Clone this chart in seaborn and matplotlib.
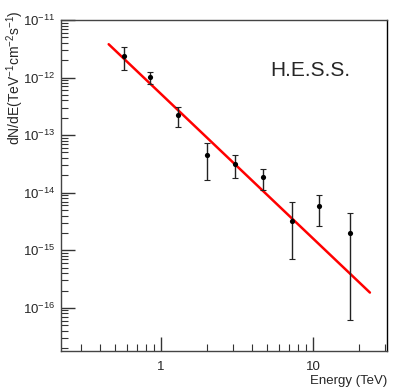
import numpy as np
import matplotlib
matplotlib.use("Agg")
import matplotlib.pyplot as plt
import matplotlib.ticker as mticker
import seaborn as sns
import pandas as pd

# Data
energy = [0.57, 0.85, 1.30, 2.0, 3.07, 4.71, 7.27, 10.9, 17.4]
flux = [2.37e-12, 1.04e-12, 2.27e-13, 4.48e-14, 3.2e-14, 1.88e-14, 3.28e-15, 5.97e-15, 2.03e-15]
flux_hi = [3.44e-12, 1.27e-12, 3.13e-13, 7.41e-14, 4.58e-14, 2.62e-14, 6.84e-15, 9.27e-15, 4.41e-15]
flux_lo = [1.34e-12, 7.74e-13, 1.41e-13, 1.69e-14, 1.83e-14, 1.12e-14, 7.0e-16, 2.69e-15, 6.2e-17]

# power-law fit parameters
fit_norm = 5.2e-13   # at 1 TeV
fit_index = 2.51
fit_emin, fit_emax = 0.453, 23.7

xtick_values = [1, 10]
xtick_labels = ["1", "10"]
ytick_values = [1e-16, 1e-15, 1e-14, 1e-13, 1e-12, 1e-11]

sns.set_style("ticks")
plt.rcParams['font.family'] = ['Liberation Sans', 'DejaVu Sans']
plt.rcParams['mathtext.default'] = 'regular'

fig = plt.figure(figsize=(4.09, 3.91), dpi=100)
ax = fig.add_axes([61/409, 1-351/391, 326/409, 331/391])

df = pd.DataFrame({"E": energy, "F": flux})
e_fit = np.logspace(np.log10(fit_emin), np.log10(fit_emax), 50)
fit_df = pd.DataFrame({"E": e_fit, "F": fit_norm * e_fit ** (-fit_index)})

sns.lineplot(data=fit_df, x="E", y="F", ax=ax, color="red", lw=1.8, zorder=2)
yerr = np.array([np.array(flux) - np.array(flux_lo), np.array(flux_hi) - np.array(flux)])
ax.errorbar(energy, flux, yerr=yerr, fmt="none", ecolor="#222222", elinewidth=1.0,
            capsize=2, capthick=0.8, zorder=3)
sns.scatterplot(data=df, x="E", y="F", ax=ax, color="black", s=14, edgecolor="black",
                linewidth=0, zorder=4)

ax.set_xscale("log")
ax.set_yscale("log")
ax.set_xlim(0.22, 30.7)
ax.set_ylim(1.78e-17, 1e-11)

ax.xaxis.set_major_locator(mticker.FixedLocator(xtick_values))
ax.xaxis.set_major_formatter(mticker.FixedFormatter(xtick_labels))
ax.xaxis.set_minor_locator(mticker.LogLocator(base=10, subs=np.arange(2, 10)))
ax.xaxis.set_minor_formatter(mticker.NullFormatter())
ax.yaxis.set_major_locator(mticker.FixedLocator(ytick_values))
ax.yaxis.set_minor_locator(mticker.LogLocator(base=10, subs=np.arange(2, 10), numticks=20))
ax.yaxis.set_minor_formatter(mticker.NullFormatter())

ax.tick_params(which="major", direction="in", length=10, width=1, color="#333333",
               labelsize=9.5, top=False, right=False, pad=7)
ax.tick_params(which="minor", direction="in", length=5, width=0.8, color="#333333",
               top=False, right=False)
ax.tick_params(axis="y", which="major", pad=4)

for s in ax.spines.values():
    s.set_color("#444444")
    s.set_linewidth(1.0)
ax.spines["right"].set_color("black")

ax.set_xlabel("")
ax.set_ylabel("")
fig.text(15/409, 1-10/391, r"dN/dE(TeV$^{-1}$cm$^{-2}$s$^{-1}$)", rotation=90,
         ha="center", va="top", fontsize=10)
fig.text(387/409, 1-381/391, "Energy (TeV)", ha="right", va="center", fontsize=9.5)
ax.text(310/409, 1-70/391, "H.E.S.S.", transform=fig.transFigure, ha="center",
        va="center", fontsize=15)

fig.savefig("out.png", dpi=100)
